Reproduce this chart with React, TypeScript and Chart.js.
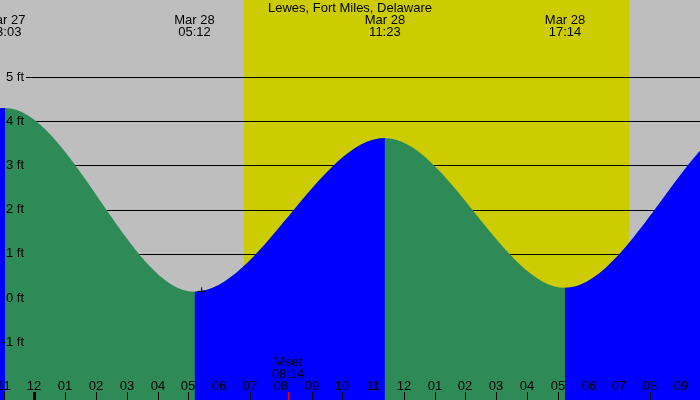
import React, { useEffect, useRef } from "react";
import { Chart, registerables } from "chart.js";

Chart.register(...registerables);

// ---- data ----
const stationName = "Lewes, Fort Miles, Delaware";
// tide extremes (heights in ft)
const tideDays = [27, 27, 27, 28, 28, 28, 28, 29];
const tideClock = ["10:35", "16:50", "23:03", "05:12", "11:23", "17:14", "23:31", "05:50"];
const tideHeights = [3.9, 0.3, 4.3, 0.14, 3.62, 0.23, 4.2, 0.1];
// visible window
const viewStart = { day: 27, clock: "22:53" };
const viewEnd = { day: 28, clock: "21:37" };
// sun & moon
const sunriseClock = "06:48";
const sunsetClock = "19:19";
const moonsetClock = "08:14";
// marker (+)
const markerClock = "05:26";
const markerHeight = 0.15;
// axis ticks
const yTicks = [-1, 0, 1, 2, 3, 4, 5];
const hourTickLabels = ["11", "12", "01", "02", "03", "04", "05", "06", "07", "08", "09", "10", "11", "12", "01", "02", "03", "04", "05", "06", "07", "08", "09"];
const hourTickValues = [-1, 0, 1, 2, 3, 4, 5, 6, 7, 8, 9, 10, 11, 12, 13, 14, 15, 16, 17, 18, 19, 20, 21];

// ---- helpers ----
const toHours = (day: number, clock: string) => {
  const [h, m] = clock.split(":").map(Number);
  return (day - 28) * 24 + h + m / 60;
};

const GREEN = "#2E8B57";
const BLUE = "#0000FF";
const GRAY = "#BEBEBE";
const YELLOW = "#CCCC00";
const CLEAR = "rgba(0,0,0,0)";
const FONT = "13px 'Liberation Sans', Arial, sans-serif";

export default function App() {
  const ref = useRef<HTMLCanvasElement | null>(null);

  useEffect(() => {
    if (!ref.current) return;
    const tidePoints = tideClock.map((c, i) => ({ x: toHours(tideDays[i], c), y: tideHeights[i] }));
    const xMin = toHours(viewStart.day, viewStart.clock);
    const xMax = toHours(viewEnd.day, viewEnd.clock);

    const decor = {
      id: "decor",
      beforeDraw(chart: any) {
        const { ctx, chartArea, scales } = chart;
        const x = scales.x;
        ctx.save();
        ctx.fillStyle = GRAY;
        ctx.fillRect(chartArea.left, chartArea.top, chartArea.right - chartArea.left, chartArea.bottom - chartArea.top);
        const sr = x.getPixelForValue(toHours(28, sunriseClock));
        const ss = x.getPixelForValue(toHours(28, sunsetClock));
        ctx.fillStyle = YELLOW;
        ctx.fillRect(sr, chartArea.top, ss - sr, chartArea.bottom - chartArea.top);
        ctx.restore();
      },
      beforeDatasetsDraw(chart: any) {
        const { ctx, chartArea, scales } = chart;
        ctx.save();
        ctx.strokeStyle = "#000";
        ctx.lineWidth = 1;
        for (const v of yTicks) {
          const py = Math.round(scales.y.getPixelForValue(v)) + 0.5;
          ctx.beginPath();
          ctx.moveTo(26, py);
          ctx.lineTo(chartArea.right, py);
          ctx.stroke();
        }
        ctx.restore();
      },
      afterDatasetsDraw(chart: any) {
        const { ctx, chartArea, scales } = chart;
        const x = scales.x;
        const y = scales.y;
        ctx.save();
        ctx.font = FONT;
        ctx.fillStyle = "#000";
        ctx.textBaseline = "middle";
        // y labels
        ctx.textAlign = "right";
        for (const v of yTicks) {
          ctx.fillText(`${v} ft`, 24, y.getPixelForValue(v));
        }
        // title
        ctx.textAlign = "center";
        ctx.fillText(stationName, (chartArea.left + chartArea.right) / 2, 8);
        // extreme labels
        tideClock.forEach((c, i) => {
          const h = toHours(tideDays[i], c);
          if (h < xMin - 1 || h > xMax + 1) return;
          const px = x.getPixelForValue(h);
          ctx.fillText(`Mar ${tideDays[i]}`, px, 20);
          ctx.fillText(c, px, 32);
        });
        // hour ticks
        hourTickValues.forEach((v, i) => {
          const px = Math.round(x.getPixelForValue(v));
          ctx.fillStyle = "#000";
          ctx.fillText(hourTickLabels[i], px, 386);
          const w = v % 24 === 0 ? 3 : 1;
          ctx.fillRect(px - Math.floor(w / 2), 392, w, 8);
        });
        // moonset
        const mx = Math.round(x.getPixelForValue(toHours(28, moonsetClock)));
        ctx.fillStyle = "#000";
        ctx.fillText("Mset", mx, 362);
        ctx.fillText(moonsetClock, mx, 374);
        ctx.fillStyle = "#FF0000";
        ctx.fillRect(mx, 392, 1, 8);
        ctx.restore();
      },
    };

    const chart = new Chart(ref.current, {
      type: "line",
      data: {
        datasets: [
          {
            // full tide area (falling colour underneath)
            data: tidePoints,
            fill: "start",
            borderWidth: 0,
            borderColor: CLEAR,
            backgroundColor: GREEN,
            pointRadius: 0,
            cubicInterpolationMode: "monotone",
            order: 2,
          } as any,
          {
            // rising segments on top
            data: tidePoints,
            fill: "start",
            borderWidth: 0,
            borderColor: CLEAR,
            backgroundColor: CLEAR,
            pointRadius: 0,
            cubicInterpolationMode: "monotone",
            order: 1,
            segment: {
              backgroundColor: (c: any) => (c.p1.parsed.y > c.p0.parsed.y ? BLUE : CLEAR),
            },
          } as any,
          {
            type: "scatter",
            data: [{ x: toHours(28, markerClock), y: markerHeight }],
            pointStyle: "cross",
            pointRadius: 4,
            borderColor: "#000",
            borderWidth: 1,
            showLine: false,
            order: 0,
          } as any,
        ],
      },
      options: {
        animation: false,
        responsive: false,
        maintainAspectRatio: false,
        layout: { padding: 0, autoPadding: false },
        scales: {
          x: { type: "linear", min: xMin, max: xMax, display: false },
          y: { type: "linear", min: -2.308, max: 6.742, display: false },
        },
        plugins: { legend: { display: false }, tooltip: { enabled: false } },
        events: [],
      },
      plugins: [decor],
    });
    return () => chart.destroy();
  }, []);

  return (
    <div style={{ position: "fixed", left: 0, top: 0, width: 700, height: 400 }}>
      <canvas ref={ref} width={700} height={400} style={{ display: "block", width: 700, height: 400 }} />
    </div>
  );
}
